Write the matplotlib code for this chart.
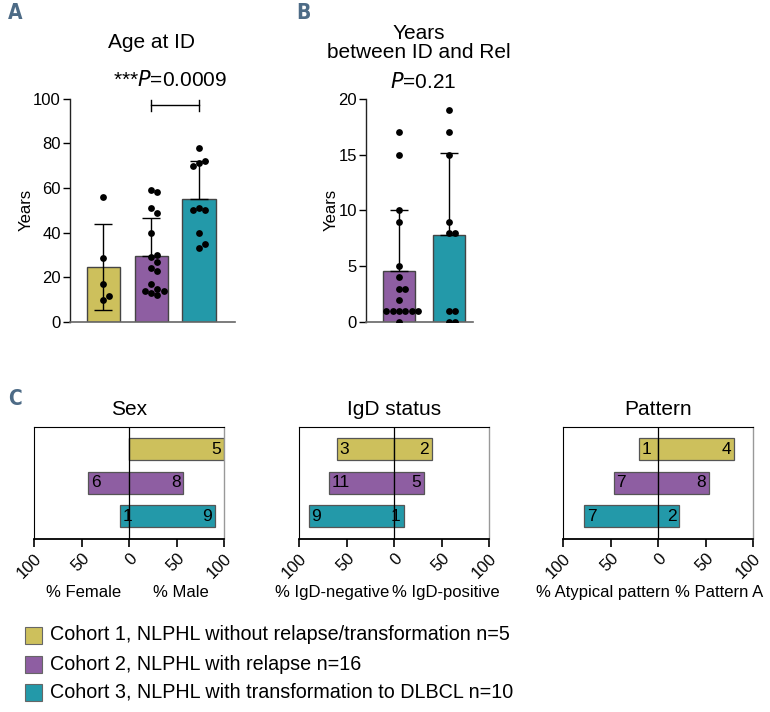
import matplotlib
matplotlib.use("Agg")
import matplotlib.pyplot as plt
from matplotlib.patches import Rectangle
import numpy as np

plt.rcParams['font.family'] = ['Liberation Sans', 'DejaVu Sans']

colors = ['#cdc05c', '#8e5ea2', '#2399a9']
edge = '#444444'
letter_color = '#4d6b86'

# panel A: age at initial diagnosis
age_c1 = [56, 28.5, 17, 10, 11.5]
age_c2 = [59, 58, 51, 49, 40, 29, 30, 24, 23, 27, 17, 15, 13, 14, 14, 12]
age_c3 = [78, 71, 72, 70, 51, 50, 50, 40, 33, 35]
age_mean = [24.6, 29.7, 55.0]
age_err_lo = [19.2, 0, 0]
age_err_hi = [19.4, 16.8, 17.0]

# panel B: years between ID and relapse
rel_c2 = [17, 15, 10, 9, 5, 4, 3, 3, 2, 1, 1, 1, 1, 1, 1, 0]
rel_c3 = [19, 17, 15, 9, 8, 8, 1, 1, 0, 0]
rel_mean = [4.6, 7.8]
rel_err_hi = [5.4, 7.3]

# panel C: counts per cohort (left, right)
sex_left = [0, 6, 1]
sex_right = [5, 8, 9]
igd_left = [3, 11, 9]
igd_right = [2, 5, 1]
pat_left = [1, 7, 7]
pat_right = [4, 8, 2]

legend_labels = ['Cohort 1, NLPHL without relapse/transformation n=5',
                 'Cohort 2, NLPHL with relapse n=16',
                 'Cohort 3, NLPHL with transformation to DLBCL n=10']

W, H = 770, 712
fig = plt.figure(figsize=(W / 100, H / 100), dpi=100)


def px_axes(x0, y0, x1, y1):
    return fig.add_axes([x0 / W, 1 - y1 / H, (x1 - x0) / W, (y1 - y0) / H])


def swarm(ax, xc, vals, dot_px=6.0, step_px=6.3):
    # simple deterministic beeswarm in display coordinates
    tr = ax.transData
    placed = []
    out = []
    cands = [0]
    for i in range(1, 8):
        cands += [i, -i]
    for v in vals:
        px, py = tr.transform((xc, v))
        for c in cands:
            x = px + c * step_px
            if all((x - qx) ** 2 + (py - qy) ** 2 >= dot_px ** 2 for qx, qy in placed):
                placed.append((x, py))
                out.append(tr.inverted().transform((x, py)))
                break
    out = np.array(out)
    ax.scatter(out[:, 0], out[:, 1], s=24, color='black', zorder=5, linewidths=0)


def style_bar_axes(ax):
    for s in ['top', 'right']:
        ax.spines[s].set_visible(False)
    ax.spines['left'].set_color('#222222')
    ax.spines['bottom'].set_color('#666666')
    ax.spines['left'].set_linewidth(1.0)
    ax.spines['bottom'].set_linewidth(1.2)
    ax.tick_params(axis='y', labelsize=12, length=5, width=1.0, pad=1.5)
    ax.set_xticks([])
    ax.set_ylabel('Years', fontsize=12, labelpad=0)


# ---- panel A
axA = px_axes(70, 98.7, 235, 322)
axA.set_xlim(-0.69, 2.75)
axA.set_ylim(0, 100)
xs = np.arange(3)
axA.bar(xs, age_mean, width=0.69, color=colors, edgecolor=edge, linewidth=1.0, zorder=2)
axA.errorbar(xs, age_mean, yerr=[age_err_lo, age_err_hi], fmt='none', ecolor='black',
             elinewidth=1.0, capsize=6.5, capthick=1.0, zorder=4)
for i, vals in enumerate([age_c1, age_c2, age_c3]):
    swarm(axA, i, vals)
axA.set_yticks([0, 20, 40, 60, 80, 100])
style_bar_axes(axA)
axA.plot([1, 2], [97, 97], color='black', lw=1.0, clip_on=False)
axA.plot([1, 1], [94.5, 99.5], color='black', lw=1.0, clip_on=False)
axA.plot([2, 2], [94.5, 99.5], color='black', lw=1.0, clip_on=False)
fig.text(170 / W, 1 - 80 / H, '***$\\it{P}$=0.0009', fontsize=15, ha='center', va='center')
fig.text(152 / W, 1 - 43 / H, 'Age at ID', fontsize=15, ha='center', va='center')

# ---- panel B
axB = px_axes(366, 98.7, 473, 322)
axB.set_xlim(-0.66, 1.48)
axB.set_ylim(0, 20)
xb = np.arange(2)
axB.bar(xb, rel_mean, width=0.64, color=colors[1:], edgecolor=edge, linewidth=1.0, zorder=2)
axB.errorbar(xb, rel_mean, yerr=[[0, 0], rel_err_hi], fmt='none', ecolor='black',
             elinewidth=1.0, capsize=6.5, capthick=1.0, zorder=4)
for i, vals in enumerate([rel_c2, rel_c3]):
    swarm(axB, i, vals)
axB.set_yticks([0, 5, 10, 15, 20])
style_bar_axes(axB)
fig.text(419 / W, 1 - 43 / H, 'Years\nbetween ID and Rel', fontsize=15, ha='center',
         va='center', linespacing=1.05)
fig.text(423 / W, 1 - 82 / H, '$\\it{P}$=0.21', fontsize=15, ha='center', va='center')

# ---- panel C
panels = [
    ('Sex', sex_left, sex_right, '% Female', '% Male', 34, -48, 54.5),
    ('IgD status', igd_left, igd_right, '% IgD-negative', '% IgD-positive', 299, -64.7, 54.7),
    ('Pattern', pat_left, pat_right, '% Atypical pattern', '% Pattern A', 563, -58.4, 64),
]
for title, left, right, llab, rlab, x0, lx, rx in panels:
    ax = px_axes(x0, 427, x0 + 190, 539)
    left = np.array(left, dtype=float)
    right = np.array(right, dtype=float)
    tot = left + right
    lp = 100 * left / tot
    rp = 100 * right / tot
    yy = np.arange(3)
    ax.barh(yy, -lp, height=0.66, color=colors, edgecolor='#555555', linewidth=0.9, zorder=2)
    ax.barh(yy, rp, height=0.66, color=colors, edgecolor='#555555', linewidth=0.9, zorder=2)
    ax.axvline(0, color='black', lw=0.9, zorder=3)
    for i in range(3):
        if left[i] > 0:
            ax.text(-lp[i] + 3, yy[i], f'{int(left[i])}', ha='left', va='center',
                    fontsize=12.5, zorder=4)
        if right[i] > 0:
            ax.text(rp[i] - 3, yy[i], f'{int(right[i])}', ha='right', va='center',
                    fontsize=12.5, zorder=4)
    ax.set_xlim(-100, 100)
    ax.set_ylim(2.68, -0.66)
    ax.set_yticks([])
    ax.set_xticks([-100, -50, 0, 50, 100])
    ax.set_xticklabels(['100', '50', '0', '50', '100'], rotation=45, ha='right',
                       rotation_mode='anchor', fontsize=12)
    ax.tick_params(axis='x', length=6, width=1.2, pad=2.5)
    ax.spines['bottom'].set_linewidth(1.3)
    ax.spines['top'].set_linewidth(0.8)
    ax.spines['left'].set_linewidth(0.8)
    ax.spines['right'].set_color('#999999')
    ax.spines['right'].set_linewidth(1.0)
    ax.set_title(title, fontsize=15, pad=9)
    ax.text(lx, 4.27, llab, ha='center', va='center', fontsize=12,
            transform=ax.transData, clip_on=False)
    ax.text(rx, 4.27, rlab, ha='center', va='center', fontsize=12,
            transform=ax.transData, clip_on=False)

# ---- legend
for i, lab in enumerate(legend_labels):
    yc = [635, 664, 692][i]
    fig.patches.append(Rectangle((25 / W, 1 - (yc + 8.5) / H), 17 / W, 17 / H,
                                 transform=fig.transFigure, facecolor=colors[i],
                                 edgecolor='#666666', linewidth=0.8))
    fig.text(50 / W, 1 - yc / H, lab, fontsize=14.2, ha='left', va='center')

# panel letters
for lab, x, y in [('A', 8, 13), ('B', 296, 13), ('C', 8, 399)]:
    fig.text(x / W, 1 - y / H, lab, fontsize=15, fontweight='bold', color=letter_color,
             ha='left', va='center', family='DejaVu Sans', fontstretch='condensed')

fig.savefig('out.png', dpi=100)
